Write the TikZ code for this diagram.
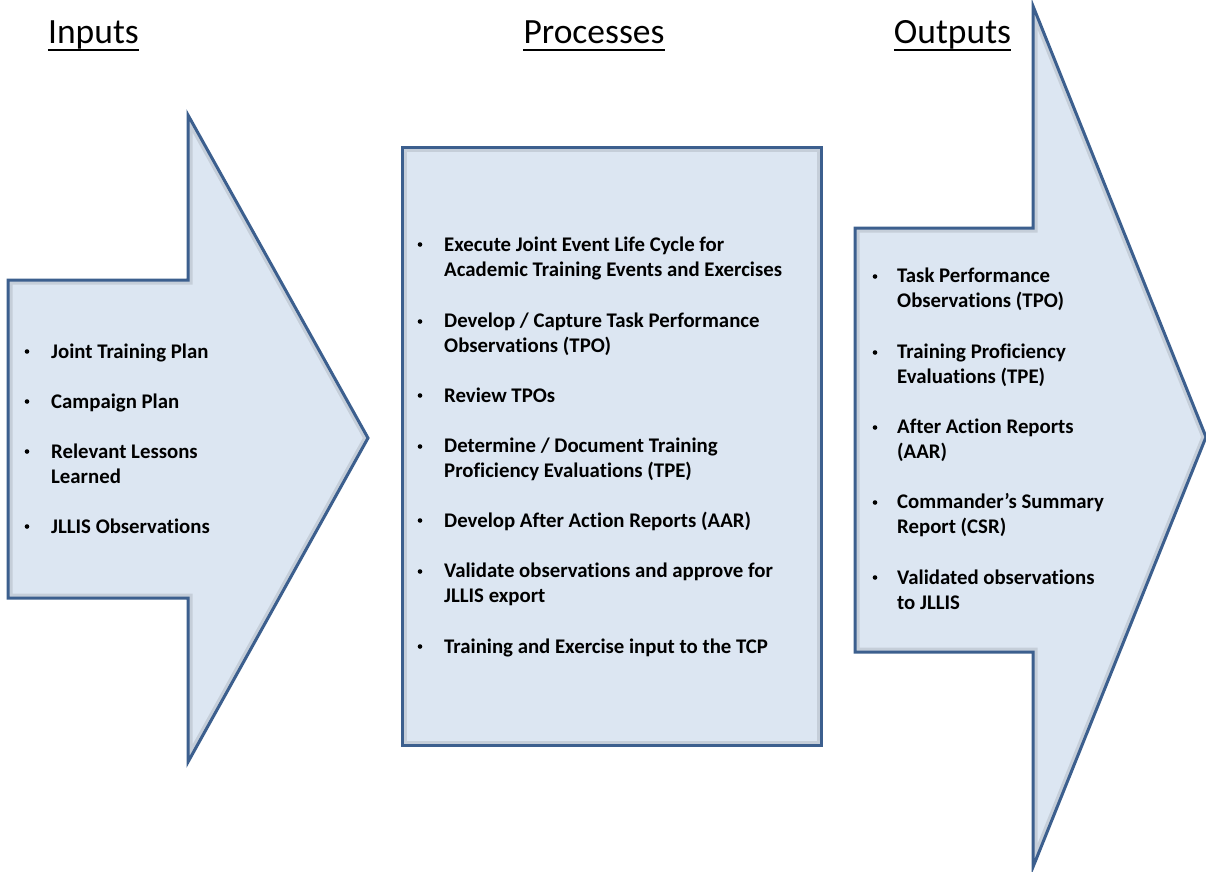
\documentclass[tikz,border=0pt]{standalone}
\usepackage{fontspec}
\setmainfont[Ligatures={NoCommon}]{Carlito}
\begin{document}
\begin{tikzpicture}[x=1pt,y=-1pt,
  shapeline/.style={draw=boxline,line width=3pt,line join=miter},
  inshadow/.style={draw=black,opacity=0.10,line width=9pt},
  item/.style={anchor=base west,inner sep=0pt,align=left,font=\fontsize{20.8}{24.7}\selectfont\bfseries,text=black},
  bul/.style={circle,fill=black,inner sep=0pt,minimum size=4.6pt},
  heading/.style={anchor=base,inner sep=0pt,font=\fontsize{35.5}{40}\selectfont}
]
\definecolor{boxfill}{HTML}{DCE6F2}
\definecolor{boxline}{HTML}{3C5F8E}
\useasboundingbox (0,0) rectangle (1206,871);

% ---- shapes ----
\def\inarrow{(8,280) -- (188,280) -- (188,115) -- (368,438) -- (188,762) -- (188,598) -- (8,598) -- cycle}
\def\procbox{(402,147) rectangle (821,745)}
\def\outarrow{(855,228) -- (1033,228) -- (1033,6) -- (1206,437) -- (1033,867) -- (1033,652) -- (855,652) -- cycle}

\fill[boxfill] \inarrow;
\begin{scope}\clip \inarrow; \draw[inshadow] \inarrow; \end{scope}
\draw[shapeline] \inarrow;

\fill[boxfill] \procbox;
\begin{scope}\clip \procbox; \draw[inshadow] \procbox; \end{scope}
\draw[shapeline] \procbox;

\fill[boxfill] \outarrow;
\begin{scope}\clip \outarrow; \draw[inshadow] \outarrow; \end{scope}
\draw[shapeline] \outarrow;

% ---- headings ----
\node[heading] (hin) at (93.5,43) {Inputs};
\node[heading] (hproc) at (594,43) {Processes};
\node[heading] (hout) at (952.5,43) {Outputs};
\foreach \h in {hin,hproc,hout}
  \draw[line width=2pt] ([yshift=-7pt]\h.base west) -- ([yshift=-7pt]\h.base east);

% ---- inputs (y = baseline of last line) ----
\foreach \n/\y in {1/358,2/408,3/458,4/533}
  \node[bul] (ib\n) at (27,\y-6.5) {};
\node[item] (i1) at (51,358) {Joint Training Plan};
\node[item] (i2) at (51,408) {Campaign Plan};
\node[item] (i3) at (51,483) {Relevant Lessons\\Learned};
\node[item] (i4) at (51,533) {JLLIS Observations};

% ---- processes ----
\foreach \n/\y in {1/251,2/328,3/402,4/453,5/527,6/578,7/653}
  \node[bul] (pb\n) at (420,\y-6.5) {};
\node[item] (p1) at (444,276) {Execute Joint Event Life Cycle for\\Academic Training Events and Exercises};
\node[item] (p2) at (444,352) {Develop / Capture Task Performance\\Observations (TPO)};
\node[item] (p3) at (444,402) {Review TPOs};
\node[item] (p4) at (444,477) {Determine / Document Training\\Proficiency Evaluations (TPE)};
\node[item] (p5) at (444,527) {Develop After Action Reports (AAR)};
\node[item] (p6) at (444,602) {Validate observations and approve for\\JLLIS export};
\node[item] (p7) at (444,653) {Training and Exercise input to the TCP};

% ---- outputs ----
\foreach \n/\y in {1/283,2/359,3/434,4/509,5/584}
  \node[bul] (ob\n) at (875,\y-6.5) {};
\node[item] (o1) at (897,307) {Task Performance\\Observations (TPO)};
\node[item] (o2) at (897,383) {Training Proficiency\\Evaluations (TPE)};
\node[item] (o3) at (897,458) {After Action Reports\\(AAR)};
\node[item] (o4) at (897,533) {Commander’s Summary\\Report (CSR)};
\node[item] (o5) at (897,609) {Validated observations\\to JLLIS};
\end{tikzpicture}
\end{document}
